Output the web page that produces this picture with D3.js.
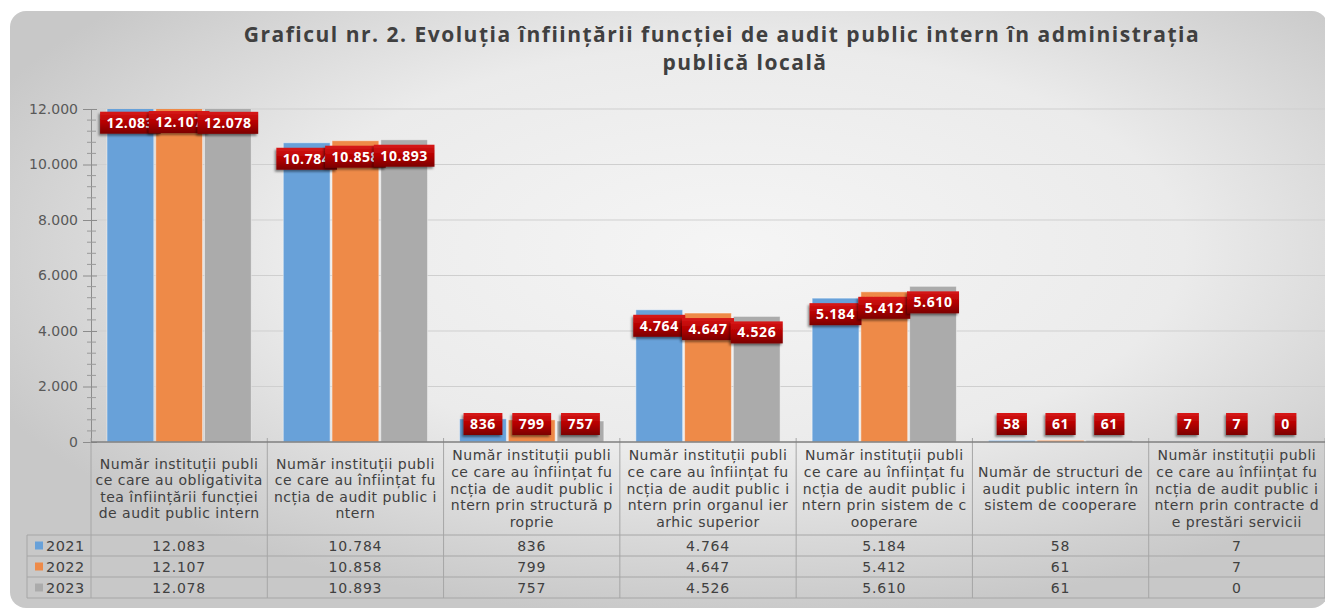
<!DOCTYPE html>
<html>
<head>
<meta charset="utf-8">
<script src="https://cdn.jsdelivr.net/npm/d3@7"></script>
<style>
    body { margin: 0; background: #ffffff; }
    #wrapper { width: 1325px; height: 612px; }
</style>
</head>
<body>
<div id="wrapper"></div>
<script>
// data
const titleLines = [
    "Graficul nr. 2. Evoluția înființării funcției de audit public intern în administrația",
    "publică locală"
]
const categoryLines = [
    ["Număr instituții publi", "ce care au obligativita", "tea înființării funcției", "de audit public intern"],
    ["Număr instituții publi", "ce care au înființat fu", "ncția de audit public i", "ntern"],
    ["Număr instituții publi", "ce care au înființat fu", "ncția de audit public i", "ntern prin structură p", "roprie"],
    ["Număr instituții publi", "ce care au înființat fu", "ncția de audit public i", "ntern prin organul ier", "arhic superior"],
    ["Număr instituții publi", "ce care au înființat fu", "ncția de audit public i", "ntern prin sistem de c", "ooperare"],
    ["Număr de structuri de", "audit public intern în", "sistem de cooperare"],
    ["Număr instituții publi", "ce care au înființat fu", "ncția de audit public i", "ntern prin contracte d", "e prestări servicii"]
]
const categories = categoryLines.map(lines => lines.join(""))
const years = ["2021", "2022", "2023"]
const values2021 = [12083, 10784, 836, 4764, 5184, 58, 7]
const values2022 = [12107, 10858, 799, 4647, 5412, 61, 7]
const values2023 = [12078, 10893, 757, 4526, 5610, 61, 0]
const yTicks = [0, 2000, 4000, 6000, 8000, 10000, 12000]
const yMinorStep = 400
const colors = ["#68a1d9", "#ee8a48", "#ababab"]

function drawChart() {
    const seriesValues = [values2021, values2022, values2023]

    let dimensions = {
        width: 1325,
        height: 612,
        plotLeft: 91,
        plotRight: 1325,
        plotTop: 109,
        plotBottom: 442,
        headerBottom: 535,
        rowHeight: 21,
        tableLeft: 27,
    }

    const ro = d3.formatLocale({decimal: ",", thousands: ".", grouping: [3], currency: ["", " lei"]})
    const fmt = ro.format(",")

    const wrapper = d3.select("#wrapper")
        .append("svg")
        .attr("width", dimensions.width)
        .attr("height", dimensions.height)
        .style("font-family", "'DejaVu Sans', sans-serif")

    const defs = wrapper.append("defs")
    const bgGrad = defs.append("radialGradient")
        .attr("id", "bgGrad")
        .attr("cx", 0.55).attr("cy", 0.4).attr("r", 0.62)
    bgGrad.append("stop").attr("offset", 0).attr("stop-color", "#f5f5f5")
    bgGrad.append("stop").attr("offset", 0.55).attr("stop-color", "#ebebeb")
    bgGrad.append("stop").attr("offset", 1).attr("stop-color", "#c8c8c8")

    const labelGrad = defs.append("linearGradient")
        .attr("id", "labelGrad")
        .attr("x1", 0).attr("y1", 0).attr("x2", 0).attr("y2", 1)
    labelGrad.append("stop").attr("offset", 0).attr("stop-color", "#d81818")
    labelGrad.append("stop").attr("offset", 0.5).attr("stop-color", "#b40000")
    labelGrad.append("stop").attr("offset", 1).attr("stop-color", "#7c0000")

    const shadow = defs.append("filter").attr("id", "shadow")
        .attr("x", -0.3).attr("y", -0.3).attr("width", 1.6).attr("height", 1.6)
    shadow.append("feDropShadow")
        .attr("dx", -1.5).attr("dy", 2).attr("stdDeviation", 1)
        .attr("flood-color", "#000").attr("flood-opacity", 0.45)

    defs.append("clipPath").attr("id", "plotClip")
        .append("rect")
        .attr("x", dimensions.plotLeft)
        .attr("y", dimensions.plotTop)
        .attr("width", dimensions.plotRight - dimensions.plotLeft)
        .attr("height", dimensions.plotBottom - dimensions.plotTop)

    // background
    wrapper.append("rect")
        .attr("x", 10).attr("y", 11)
        .attr("width", 1318).attr("height", 597)
        .attr("rx", 16)
        .attr("fill", "url(#bgGrad)")

    // title
    wrapper.append("g")
        .selectAll("text")
        .data(titleLines)
        .join("text")
        .attr("x", (d, i) => i == 0 ? 722 : 745)
        .attr("y", (d, i) => 42 + i * 28)
        .attr("text-anchor", "middle")
        .style("font-family", "'Open Sans', sans-serif")
        .style("font-weight", "bold")
        .style("font-size", "21px")
        .style("letter-spacing", "1.5px")
        .style("fill", "#404040")
        .text(d => d)

    // scales
    const xScaler = d3.scaleBand()
        .domain(categories)
        .range([dimensions.plotLeft, dimensions.plotRight])
        .padding(0)

    const xInner = d3.scaleBand()
        .domain(years)
        .range([16, xScaler.bandwidth() - 16])
        .paddingInner(0.04)

    const yScaler = d3.scaleLinear()
        .domain([0, 12000])
        .range([dimensions.plotBottom, dimensions.plotTop])

    // gridlines
    wrapper.append("g")
        .selectAll("line")
        .data(yTicks.filter(d => d > 0))
        .join("line")
        .attr("x1", dimensions.plotLeft)
        .attr("x2", dimensions.plotRight)
        .attr("y1", d => yScaler(d))
        .attr("y2", d => yScaler(d))
        .attr("stroke", "#cfcfcf")
        .attr("stroke-width", 1)

    // y axis
    const yAxisGen = d3.axisLeft(yScaler)
        .tickValues(yTicks)
        .tickFormat(fmt)
        .tickSize(8)
        .tickPadding(5)
    const yAxis = wrapper.append("g")
        .attr("transform", `translate(${dimensions.plotLeft},0)`)
        .call(yAxisGen)
    yAxis.select(".domain").attr("stroke", "#8c8c8c")
    yAxis.selectAll(".tick line").attr("stroke", "#8c8c8c").attr("x2", 6).attr("x1", -8)
    yAxis.selectAll(".tick text")
        .style("font-family", "'DejaVu Sans', sans-serif")
        .style("font-size", "14px")
        .style("fill", "#595959")

    const minorTicks = d3.range(0, 12001, yMinorStep).filter(d => d % 2000 != 0)
    wrapper.append("g")
        .selectAll("line")
        .data(minorTicks)
        .join("line")
        .attr("x1", dimensions.plotLeft - 4)
        .attr("x2", dimensions.plotLeft + 5)
        .attr("y1", d => yScaler(d))
        .attr("y2", d => yScaler(d))
        .attr("stroke", "#9a9a9a")

    // bars
    const bars = wrapper.append("g")
        .attr("clip-path", "url(#plotClip)")
    years.forEach((year, s) => {
        bars.append("g")
            .selectAll("rect")
            .data(seriesValues[s])
            .join("rect")
            .attr("x", (d, i) => xScaler(categories[i]) + xInner(year))
            .attr("y", d => yScaler(d))
            .attr("width", xInner.bandwidth())
            .attr("height", d => dimensions.plotBottom - yScaler(d))
            .attr("fill", colors[s])
            .attr("stroke", "#ffffff")
            .attr("stroke-opacity", 0.45)
            .attr("stroke-width", 1)
    })

    // data labels
    const labels = wrapper.append("g")
    categories.forEach((cat, i) => {
        years.forEach((year, s) => {
            const v = seriesValues[s][i]
            const cx = xScaler(cat) + xInner(year) + xInner.bandwidth() / 2
            const cy = Math.min(yScaler(v) + 16, dimensions.plotBottom - 18)
            const g = labels.append("g")
            const box = g.append("rect")
            const txt = g.append("text")
                .attr("x", cx)
                .attr("y", cy)
                .attr("dy", "0.36em")
                .attr("text-anchor", "middle")
                .style("font-family", "'Open Sans', sans-serif")
                .style("font-weight", "bold")
                .style("font-size", "14px")
                .style("letter-spacing", "0.6px")
                .style("fill", "#ffffff")
                .text(fmt(v))
            const w = txt.node().getComputedTextLength() + 13
            box.attr("x", cx - w / 2)
                .attr("y", cy - 11)
                .attr("width", w)
                .attr("height", 22)
                .attr("fill", "url(#labelGrad)")
                .attr("filter", "url(#shadow)")
        })
    })

    // data table
    const table = wrapper.append("g")
    const rowLines = [0, 1, 2, 3].map(r => dimensions.headerBottom + r * dimensions.rowHeight)
    const tableBottom = rowLines[3]

    table.selectAll(".hline")
        .data(rowLines)
        .join("line")
        .attr("x1", dimensions.tableLeft)
        .attr("x2", dimensions.plotRight)
        .attr("y1", d => d)
        .attr("y2", d => d)
        .attr("stroke", "#a6a6a6")

    const vLines = categories.map(c => xScaler(c)).concat([dimensions.plotRight])
    table.selectAll(".vline")
        .data(vLines)
        .join("line")
        .attr("x1", d => d)
        .attr("x2", d => d)
        .attr("y1", dimensions.plotBottom - 4)
        .attr("y2", tableBottom)
        .attr("stroke", "#a6a6a6")
    table.append("line")
        .attr("x1", dimensions.tableLeft).attr("x2", dimensions.tableLeft)
        .attr("y1", dimensions.headerBottom).attr("y2", tableBottom)
        .attr("stroke", "#a6a6a6")

    // x axis line
    wrapper.append("line")
        .attr("x1", dimensions.plotLeft)
        .attr("x2", dimensions.plotRight)
        .attr("y1", dimensions.plotBottom)
        .attr("y2", dimensions.plotBottom)
        .attr("stroke", "#7f7f7f")
        .attr("stroke-width", 1.5)

    const headerMid = (dimensions.plotBottom + dimensions.headerBottom) / 2
    const lineStep = 16.6
    categoryLines.forEach((lines, i) => {
        const cx = xScaler(categories[i]) + xScaler.bandwidth() / 2
        table.append("g")
            .selectAll("text")
            .data(lines)
            .join("text")
            .attr("x", cx)
            .attr("y", (d, k) => headerMid + (k - (lines.length - 1) / 2) * lineStep)
            .attr("dy", "0.36em")
            .attr("text-anchor", "middle")
            .style("font-size", "14px")
            .style("letter-spacing", "0.5px")
            .style("fill", "#404040")
            .text(d => d)
    })

    years.forEach((year, s) => {
        const cy = dimensions.headerBottom + s * dimensions.rowHeight + dimensions.rowHeight / 2
        table.append("rect")
            .attr("x", 35).attr("y", cy - 4)
            .attr("width", 8).attr("height", 8)
            .attr("fill", colors[s])
        table.append("text")
            .attr("x", 46).attr("y", cy)
            .attr("dy", "0.36em")
            .style("font-size", "14.5px")
            .style("letter-spacing", "0.4px")
            .style("fill", "#404040")
            .text(year)
        table.append("g")
            .selectAll("text")
            .data(seriesValues[s])
            .join("text")
            .attr("x", (d, i) => xScaler(categories[i]) + xScaler.bandwidth() / 2)
            .attr("y", cy)
            .attr("dy", "0.36em")
            .attr("text-anchor", "middle")
            .style("font-size", "14px")
            .style("letter-spacing", "0.8px")
            .style("fill", "#404040")
            .text(d => fmt(d))
    })
}

drawChart()
</script>
</body>
</html>
